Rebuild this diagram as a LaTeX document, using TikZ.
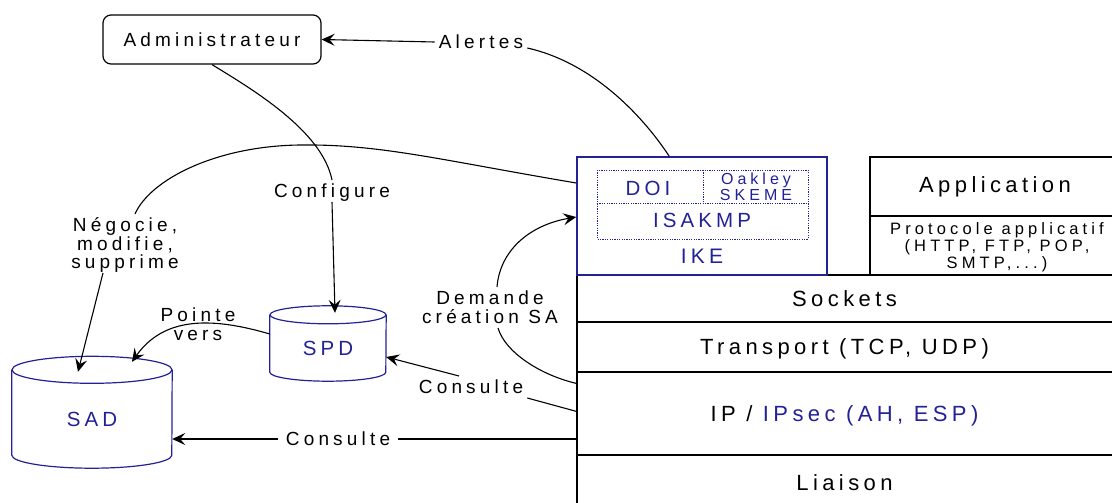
\documentclass[tikz,border=0pt]{standalone}
\usepackage{fontspec}
\setmainfont{Liberation Sans}[LetterSpace=22]
\newfontfamily\layerfont{Liberation Sans}[LetterSpace=20]
\newfontfamily\tinyfont{Liberation Sans}[LetterSpace=25]
\usetikzlibrary{arrows.meta,calc}
\definecolor{ikeblue}{RGB}{34,34,150}

\begin{document}
\begin{tikzpicture}[x=1pt,y=-1pt,
  lbl/.style={font=\fontsize{19}{19}\selectfont, inner sep=4pt, align=center,
              text height=13.6pt, text depth=0pt},
  two lines/.style={text height=32.6pt},
  layer/.style={font=\layerfont\fontsize{22}{24}\selectfont, inner sep=0pt,
                text height=15.8pt, text depth=0pt, minimum width=535pt},
  blue txt/.style={text=ikeblue, inner sep=0pt, text height=14.5pt, text depth=0pt},
  conn/.style={line width=1.1pt, black},
  arr/.style={conn, -{Stealth[length=13pt,width=12pt,inset=5pt]}},
  stackline/.style={line width=1.4pt, black},
  cyl/.style={line width=1.2pt, ikeblue},
]
\fill[white] (0,0) rectangle (1112,503);
\useasboundingbox (0,0) rectangle (1112,503);

% ---------- protocol stack ----------
\node[layer, minimum height=47pt] (sockets)   at (844.5,298.5) {Sockets};
\node[layer, minimum height=50pt] (transport) at (844.5,347)   {Transport (TCP, UDP)};
\node[layer, minimum height=83pt] (iprow)     at (844.5,413.5) {IP / \textcolor{ikeblue}{IPsec (AH, ESP)}};
\node[layer, minimum height=48pt] (liaison)   at (844.5,483)   {Liaison};

\draw[stackline] (577,275) -- (1112,275);
\draw[stackline] (577,322) -- (1112,322);
\draw[stackline] (577,372) -- (1112,372);
\draw[stackline] (577,455) -- (1112,455);
\draw[line width=2.3pt] (577,275) -- (577,503);

% application column
\draw[stackline] (1112,157) -- (870,157) -- (870,275);
\draw[stackline] (870,216) -- (1112,216);
\node[layer, minimum width=0pt] (appli) at (995,185) {Application};
\node[font=\tinyfont\fontsize{16.5}{17}\selectfont, align=center, inner sep=0pt,
      text height=45.8pt, text depth=0pt] (proto) at (997,246)
  {Protocole applicatif\\(HTTP, FTP, POP,\\SMTP,...)};

% IKE block
\node[draw=ikeblue, line width=1.5pt, minimum width=250pt, minimum height=118pt,
      inner sep=0pt] (ike) at (702,216) {};
\draw[ikeblue, line width=1pt, dash pattern=on 1.2pt off 1.2pt]
  (597,170) rectangle (808,239) (597,203) -- (808,203) (703,170) -- (703,203);
\node[blue txt, font=\layerfont\fontsize{20.5}{22}\selectfont] (doi) at (648,188) {DOI};
\node[blue txt, font=\tinyfont\fontsize{16}{13.5}\selectfont, align=center,
      text height=25pt] (oakley) at (756,187.5) {Oakley\\SKEME};
\node[blue txt, font=\layerfont\fontsize{20.5}{22}\selectfont] (isakmp) at (702,220) {ISAKMP};
\node[blue txt, font=\layerfont\fontsize{21}{22}\selectfont] (iketxt) at (702,256) {IKE};

% ---------- databases ----------
\node[blue txt, font=\layerfont\fontsize{20.5}{22}\selectfont,
      minimum width=116pt, minimum height=66pt] (spd) at (328,348) {SPD};
\draw[cyl] (spd.north west) -- ($(spd.south west)+(0,-9)$)
  arc[start angle=180, end angle=360, x radius=58pt, y radius=9pt] -- (spd.north east);
\draw[cyl] (spd.north) ellipse[x radius=58pt, y radius=9pt];

\node[blue txt, font=\layerfont\fontsize{20.5}{22}\selectfont,
      minimum width=160pt, minimum height=98pt] (sad) at (92,419) {SAD};
\draw[cyl] (sad.north west) -- ($(sad.south west)+(0,-13)$)
  arc[start angle=180, end angle=360, x radius=80pt, y radius=13pt] -- (sad.north east);
\draw[cyl] (sad.north) ellipse[x radius=80pt, y radius=13.5pt];

% ---------- administrator ----------
\node[lbl, draw, rounded corners=8pt, line width=1.2pt,
      minimum width=218pt, minimum height=49pt] (admin) at (212,39.5) {Administrateur};

% ---------- labels ----------
\node[lbl] (alertes)   at (481,42)    {Alertes};
\node[lbl] (configure) at (332,191)   {Configure};
\node[lbl, font=\fontsize{19}{18.5}\selectfont, text height=50.6pt] (negocie) at (125,243.5) {Négocie,\\modifie,\\supprime};
\node[lbl, two lines] (pointe)  at (198,324)   {Pointe\\vers};
\node[lbl, two lines] (demande) at (490,307.5) {Demande\\création SA};
\node[lbl] (consulteA) at (471,387)   {Consulte};
\node[lbl, inner xsep=8pt] (consulteB) at (338,439) {Consulte};

% ---------- connectors ----------
% alerts from IKE to the administrator
\draw[conn] ([xshift=93pt]ike.north west) .. controls (640,112) and (590,62) .. ([yshift=-6pt]alertes.east);
\draw[arr] (alertes.west) -- (admin.east);

% administrator configures the SPD
\draw[conn] (admin.south) .. controls (250,88) and (322,130) .. (configure.north);
\draw[arr] (configure.south) -- ([xshift=7pt,yshift=2pt]spd.north);

% IKE negotiates SAs in the SAD
\draw[conn] ($(ike.west)+(0,-33)$) .. controls (440,160) and (380,144) .. (300,145)
  .. controls (215,146) and (150,180) .. ([xshift=10pt]negocie.north);
\draw[arr] ([xshift=-22pt]negocie.south) -- ([xshift=-14pt,yshift=-2pt]sad.north);

% SPD entries point to SAD entries
\draw[arr] ([yshift=14pt]spd.west) .. controls (215,318) and (165,315) .. ([xshift=40pt,yshift=8pt]sad.north);

% IPsec asks IKE to create an SA
\draw[conn] ($(iprow.west)+(0,-30)$) .. controls (540,375) and (505,352) .. ([xshift=8pt]demande.south);
\draw[arr] ([xshift=7pt]demande.north) .. controls (500,250) and (530,225) .. ([yshift=-1pt]ike.west);

% IPsec consults the SPD and the SAD
\draw[conn] ($(iprow.west)+(0,-2)$) -- (consulteA.south east);
\draw[arr] ([xshift=-12pt]consulteA.north) -- ([yshift=-9pt]spd.east);
\draw[conn] ($(iprow.west)+(0,25.5)$) -- (consulteB.east);
\draw[arr] (consulteB.west) -- ([yshift=-20pt]sad.east);
\end{tikzpicture}
\end{document}
